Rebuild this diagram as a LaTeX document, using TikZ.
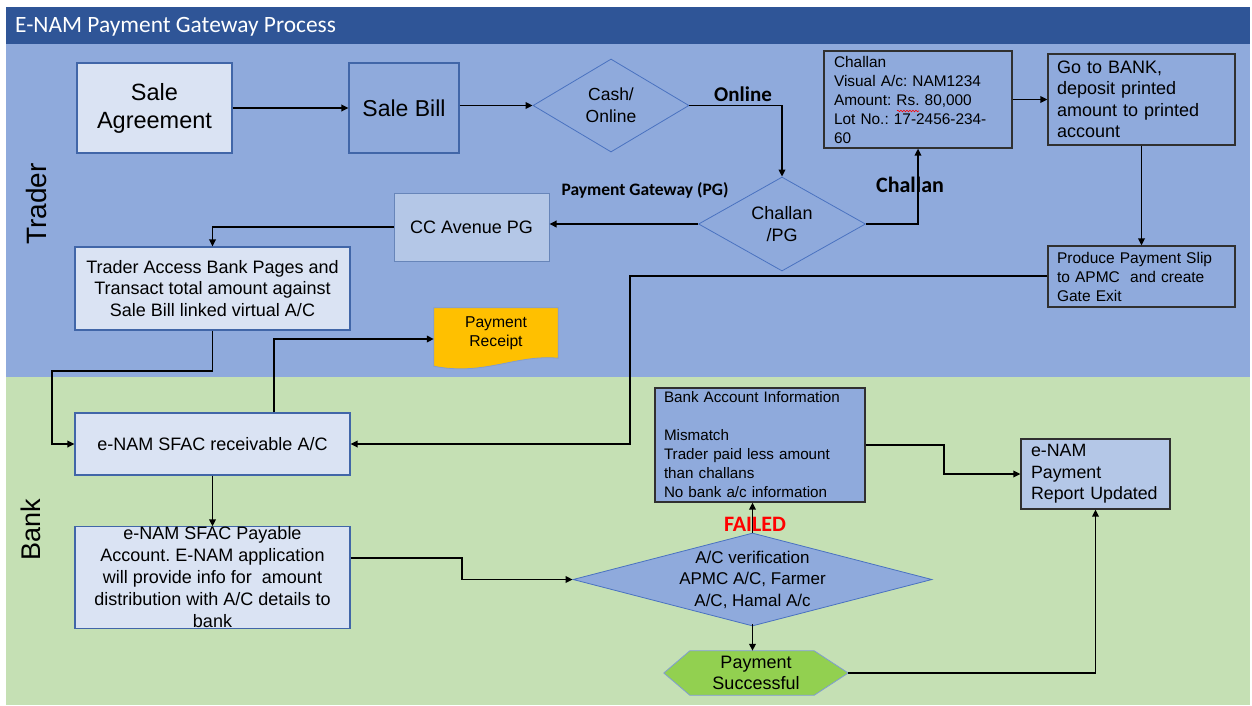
\documentclass[tikz,border=0pt]{standalone}
\usepackage{fontspec}
\setmainfont{Liberation Sans}
\newfontfamily\calfont{Carlito}
\usetikzlibrary{arrows.meta,shapes.geometric,decorations.pathmorphing,calc}
\definecolor{titleblue}{HTML}{2F5597}
\definecolor{traderblue}{HTML}{8FAADC}
\definecolor{bankgreen}{HTML}{C5E0B4}
\definecolor{lightbox}{HTML}{DAE3F3}
\definecolor{midbox}{HTML}{B4C7E7}
\definecolor{boxline}{HTML}{4166A8}
\definecolor{dialine}{HTML}{4A72C0}
\definecolor{darkline}{HTML}{303030}
\definecolor{receiptfill}{HTML}{FFC000}
\definecolor{succfill}{HTML}{92D050}
\definecolor{failred}{HTML}{FF0000}
\newcommand\fs[2]{\fontsize{#1}{#2}\selectfont}
\pgfdeclarelayer{bg}
\pgfdeclarelayer{mid}
\pgfsetlayers{bg,mid,main}
\frenchspacing
\begin{document}
\begin{tikzpicture}[x=1pt,y=-1pt,
  arr/.style={line width=1.9pt,-{Triangle[length=7pt,width=6.5pt]}},
  lbox/.style={rectangle,draw=boxline,line width=1.1pt,fill=lightbox,align=center,inner sep=0pt},
  bbox/.style={rectangle,draw=boxline,line width=1.1pt,fill=traderblue,align=center,inner sep=0pt},
  dbox/.style={rectangle,draw=darkline,line width=1.2pt,align=left,inner ysep=0pt},
  dia/.style={diamond,draw=dialine,line width=0.8pt,inner sep=0pt},
  boldlabel/.style={font=\calfont\bfseries,inner sep=0pt}
]
\begin{pgfonlayer}{bg}
\fill[white] (0,0) rectangle (1252,705);
\fill[titleblue] (6,7) rectangle (1250,44);
\fill[traderblue] (6,44) rectangle (1250,377);
\fill[bankgreen] (6,377) rectangle (1250,705);
\end{pgfonlayer}
\useasboundingbox (0,0) rectangle (1252,705);

\node[anchor=west,text=white,font=\calfont\fs{23.4}{27},inner sep=0pt] (title) at (15,27) {E-NAM Payment Gateway Process};
\node[rotate=90,font=\fs{28}{32},inner sep=0pt] (trader) at (36,204) {Trader};
\node[rotate=90,font=\fs{27}{31},inner sep=0pt] (bank) at (31,530) {Bank};

% Trader lane
\node[lbox,minimum width=155pt,minimum height=90pt,font=\fs{23.5}{28}] (sagr) at (154.5,108) {Sale\\Agreement};
\node[bbox,minimum width=110pt,minimum height=90pt,font=\fs{23}{27}] (sbill) at (404,108) {Sale Bill};
\node[dia,fill=traderblue,minimum width=156pt,minimum height=93pt,
  label={[font=\fs{17.5}{22},align=center]center:Cash/\\Online}] (cash) at (611,105.5) {};
\node[boldlabel,font=\calfont\bfseries\fs{21}{24}] (lonline) at (743,94) {Online};
\node[dia,fill=traderblue,minimum width=167pt,minimum height=94pt,
  label={[font=\fs{18}{22},align=center]center:Challan\\/PG}] (cpg) at (782,224) {};
\node[boldlabel,font=\calfont\bfseries\fs{17.5}{20}] (lpg) at (645,190) {Payment Gateway (PG)};
\node[rectangle,draw=boxline!80,line width=1pt,fill=midbox,minimum width=155pt,minimum height=68pt,font=\fs{18}{21}] (cc) at (471.5,227) {CC Avenue PG};
\node[lbox,minimum width=275pt,minimum height=83pt,font=\fs{18}{21.7}] (tacc) at (212.5,288.5) {Trader Access Bank Pages and\\Transact total amount against\\Sale Bill linked virtual A/C};
\node[boldlabel,font=\calfont\bfseries\fs{22}{25}] (lchallan) at (910,185) {Challan};
\node[dbox,minimum width=188pt,minimum height=97pt,inner xsep=10pt,text width=168pt,font=\fs{15.4}{19}] (challan) at (918,99.5) {Challan\\Visual A/c: NAM1234\\Amount: Rs. 80,000\\Lot No.: 17-2456-234-\\60};
\draw[failred,line width=0.6pt,decorate,decoration={snake,amplitude=0.8pt,segment length=3pt}] (897,111) -- (919,111);
\node[dbox,minimum width=187pt,minimum height=91pt,inner xsep=9pt,text width=169pt,font=\fs{18}{21.5}] (gobank) at (1141.5,99.5) {Go to BANK,\\deposit printed\\amount to printed\\account};
\node[dbox,minimum width=187pt,minimum height=61pt,inner xsep=9pt,text width=169pt,font=\fs{15.5}{19}] (prod) at (1141.5,276.5) {Produce Payment Slip\\to APMC\ \ and create\\Gate Exit};
\node[inner sep=0pt,minimum width=124pt,minimum height=50pt,align=center,font=\fs{15.7}{18.7}] (receipt) at (496,333) {Payment\\Receipt};
\begin{pgfonlayer}{mid}
\draw[fill=receiptfill,draw=dialine!70,line width=0.8pt] (receipt.north west) -- (receipt.north east) -- ($(receipt.south east)$)
  .. controls ($(receipt.south east)+(-43,-4)$) and ($(receipt.south west)+(51,18)$) .. ($(receipt.south west)+(0,8)$) -- cycle;
\end{pgfonlayer}

% Bank lane
\node[lbox,minimum width=275pt,minimum height=62pt,font=\fs{18}{22}] (recv) at (212.5,444) {e-NAM SFAC receivable A/C};
\node[lbox,minimum width=275pt,minimum height=101pt,font=\fs{18}{22}] (pay) at (212.5,577.5) {e-NAM SFAC Payable\\Account. E-NAM application\\will provide info for\ \ amount\\distribution with A/C details to\\bank};
\node[dbox,fill=traderblue,minimum width=210pt,minimum height=114pt,inner xsep=9pt,text width=192pt,font=\fs{15.2}{19}] (binfo) at (760,445) {Bank Account Information\\\mbox{}\\Mismatch\\Trader paid less amount\\than challans\\No bank a/c information};
\node[dbox,fill=midbox,minimum width=149pt,minimum height=70pt,inner xsep=10pt,text width=129pt,font=\fs{17.8}{21.7}] (report) at (1095.5,474) {e-NAM\\Payment\\Report Updated};
\node[dia,fill=traderblue,minimum width=359pt,minimum height=93pt,
  label={[font=\fs{17}{21.5},align=center]center:A/C verification\\APMC A/C, Farmer\\A/C, Hamal A/c}] (acv) at (752.5,579.5) {};
\node[inner sep=0pt,minimum width=184pt,minimum height=44pt,align=center,font=\fs{18}{21.7}] (succ) at (756,673) {Payment\\Successful};
\begin{pgfonlayer}{mid}
\draw[fill=succfill,draw=dialine!70,line width=0.8pt] (succ.west) -- ($(succ.north west)+(26,0)$) -- ($(succ.north east)+(-34,0)$) -- (succ.east)
  -- ($(succ.south east)+(-34,0)$) -- ($(succ.south west)+(26,0)$) -- cycle;
\end{pgfonlayer}

% bend coordinates
\coordinate (k1) at (212.5,371);
\coordinate (k2) at (52,371);
\coordinate (r1) at (274,339);
\coordinate (p1) at (462,558);
\coordinate (q1) at (630,276);

% connectors
\draw[arr] (sagr.east) -- (sbill.west);
\draw[arr] (sbill.east |- cash.west) -- (cash.west);
\draw[arr] (cash.east) -| (cpg.north);
\draw[arr] (cpg.west) -- (cpg.west -| cc.east);
\draw[arr] (cc.west) -| (tacc.north);
\draw[arr] (cpg.east) -| (challan.south);
\draw[arr] (challan.east) -- (gobank.west);
\draw[arr] (gobank.south) -- (prod.north);
\draw[arr] (prod.west |- q1) -- (q1) |- (recv.east);
\draw[arr] (tacc.south) -- (k1) -- (k2) |- (recv.west);
\draw[arr] (recv.north -| r1) -- (r1) -- (receipt.west |- r1);
\draw[arr] (recv.south) -- (pay.north);
\draw[arr] (pay.east |- p1) -- (p1) |- (acv.west);
\draw[arr] (acv.north) -- (acv.north |- binfo.south);
\draw[arr] ([yshift=2pt]acv.south) -- (acv.south |- succ.north);
\draw[arr] (binfo.east) -- ++(78,0) |- (report.west);
\draw[arr] (succ.east) -| (report.south);
\node[boldlabel,text=failred,font=\calfont\bfseries\fs{22}{25}] (lfailed) at (755,524) {FAILED};
\end{tikzpicture}
\end{document}
